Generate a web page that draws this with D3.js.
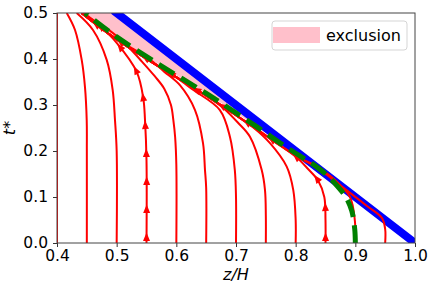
<!DOCTYPE html>
<html>
<head>
<meta charset="utf-8">
<script src="https://cdn.jsdelivr.net/npm/d3@7"></script>
<style>
  body { margin: 0; background: #fff; }
  text { font-family: "DejaVu Sans", sans-serif; }
</style>
</head>
<body>
<div class="chart"></div>
<script>
// Axis ticks
const xTicks = [0.4, 0.5, 0.6, 0.7, 0.8, 0.9, 1.0];
const yTicks = [0.0, 0.1, 0.2, 0.3, 0.4, 0.5];

// Blue wall line, [z/H, t*]
const blueLine = [[1.0, 0.0], [0.5, 0.5]];

// Green dashed boundary of the exclusion zone
const greenBoundary = [[0.9, 0.0], [0.899, 0.03], [0.894, 0.07], [0.884, 0.1], [0.869, 0.125],
  [0.85, 0.15], [0.826, 0.174], [0.815, 0.183], [0.78, 0.212], [0.74, 0.248], [0.701, 0.282],
  [0.66, 0.317], [0.62, 0.349], [0.5676, 0.391], [0.5, 0.448], [0.447, 0.5]];

// where the red trajectories bunch up along the boundary
const mergedBand = [[0.809, 0.183], [0.774, 0.212], [0.734, 0.248], [0.695, 0.282], [0.654, 0.317],
  [0.614, 0.349], [0.5616, 0.391], [0.494, 0.448], [0.441, 0.5]];

// Red trajectories, one per starting position
const curve040 = [[0.4, 0.0], [0.4, 0.5]];
const curve045 = [[0.45, 0.0], [0.45, 0.2], [0.4498, 0.267], [0.4469, 0.339], [0.4414, 0.398], [0.4302, 0.463], [0.4163, 0.5]];
const curve050 = [[0.5, 0.0], [0.5, 0.2], [0.4972, 0.267], [0.4933, 0.333], [0.4833, 0.398], [0.4603, 0.463], [0.433, 0.5]];
const curve055 = [[0.55, 0.0], [0.55, 0.18], [0.5475, 0.267], [0.5446, 0.315], [0.5336, 0.372], [0.5, 0.435], [0.472, 0.472], [0.445, 0.5]];
const curve060 = [[0.6, 0.0], [0.6, 0.17], [0.598, 0.23], [0.595, 0.267], [0.591, 0.3], [0.58, 0.335], [0.5642, 0.362], [0.542, 0.395], [0.5168, 0.43], [0.49, 0.46]];
const curve065 = [[0.65, 0.0], [0.65, 0.12], [0.648, 0.159], [0.6447, 0.217], [0.6313, 0.289], [0.606, 0.343], [0.58, 0.372], [0.555, 0.4]];
const curve070 = [[0.7, 0.0], [0.7, 0.1], [0.698, 0.159], [0.69, 0.23], [0.673, 0.289], [0.628, 0.333], [0.6, 0.36]];
const curve075 = [[0.75, 0.0], [0.75, 0.06], [0.7486, 0.115], [0.743, 0.159], [0.7234, 0.231], [0.703, 0.262], [0.68, 0.292]];
const curve080 = [[0.8, 0.0], [0.8, 0.05], [0.796, 0.115], [0.785, 0.166], [0.757, 0.217], [0.73, 0.25]];
const curve085 = [[0.85, 0.0], [0.85, 0.05], [0.848, 0.1], [0.838, 0.135], [0.82, 0.162], [0.8, 0.188]];
const curve090 = [[0.9, 0.0], [0.8994, 0.046], [0.891, 0.1], [0.8626, 0.141], [0.835, 0.165]];
const curve095 = [[0.95, 0.0], [0.95, 0.03], [0.9447, 0.054], [0.92, 0.08], [0.863, 0.137], [0.83, 0.17]];

const freeCurves = [curve040, curve045, curve050, curve055];
const bandCurves = [curve060, curve065, curve070, curve075, curve080, curve085, curve090, curve095];

const legendLabels = ["exclusion"];

// Set the dimensions and margins
const Margin = {top: 13, right: 21, bottom: 48, left: 57},
    Width = 436 - Margin.left - Margin.right,
    Height = 291 - Margin.top - Margin.bottom;

const svg = d3.select(".chart").append("svg")
    .attr("width", 436).attr("height", 291);

const g = svg.append("g")
    .attr("transform", "translate(" + Margin.left + "," + Margin.top + ")");

const x = d3.scaleLinear().domain([0.4, 1.0]).range([0, Width]);
const y = d3.scaleLinear().domain([0, 0.5]).range([Height, 0]);

g.append("clipPath").attr("id", "plotclip")
  .append("rect").attr("width", Width).attr("height", Height);

const plot = g.append("g").attr("clip-path", "url(#plotclip)");

const line = d3.line().x(d => x(d[0])).y(d => y(d[1])).curve(d3.curveCatmullRom.alpha(0.5));

// pink fill between the green boundary and the blue line
const blueZ = d3.scaleLinear().domain(blueLine.map(d => d[1])).range(blueLine.map(d => d[0]));
const pinkPts = greenBoundary.filter(d => d[1] >= 0.174);
plot.append("path")
  .attr("d", d3.area().y(d => y(d[1])).x0(d => x(d[0])).x1(d => x(blueZ(d[1]))).curve(d3.curveMonotoneY)(pinkPts))
  .attr("fill", "pink");

// blue line
plot.append("path")
  .attr("d", d3.line().x(d => x(d[0])).y(d => y(d[1]))(blueLine))
  .attr("fill", "none").attr("stroke", "blue").attr("stroke-width", 8)
  .attr("stroke-linecap", "square");

// red trajectories
function drawRed(pts) {
  return plot.append("path")
    .attr("d", line(pts))
    .attr("fill", "none").attr("stroke", "red").attr("stroke-width", 2);
}
const redPaths = {};
freeCurves.forEach(c => { redPaths[c[0][0]] = drawRed(c); });
bandCurves.forEach(c => {
  const lastT = c[c.length - 1][1];
  redPaths[c[0][0]] = drawRed(c.concat(mergedBand.filter(p => p[1] > lastT + 0.005)));
});

// arrow heads along two trajectories
function addArrows(pathSel, start, step) {
  const node = pathSel.node(), total = node.getTotalLength();
  for (let L = start; L < total - 6; L += step) {
    const p = node.getPointAtLength(L), q = node.getPointAtLength(L + 1);
    const a = Math.atan2(q.y - p.y, q.x - p.x) * 180 / Math.PI;
    plot.append("path")
      .attr("d", "M4.5,0L-4,-3.5L-4,3.5Z")
      .attr("transform", "translate(" + p.x + "," + p.y + ") rotate(" + a + ")")
      .attr("fill", "red");
  }
}
addArrows(redPaths[0.55], 6, 28);
addArrows(redPaths[0.85], 6, 30);

// green dashed boundary
plot.append("path")
  .attr("d", line(greenBoundary))
  .attr("fill", "none").attr("stroke", "green").attr("stroke-width", 5)
  .attr("stroke-dasharray", "18,8");

// Axes
const xAxis = g.append("g")
  .attr("transform", "translate(0," + Height + ")")
  .call(d3.axisBottom(x).tickValues(xTicks).tickFormat(d3.format(".1f")).tickSize(4).tickPadding(3).tickSizeOuter(0));
const yAxis = g.append("g")
  .call(d3.axisLeft(y).tickValues(yTicks).tickFormat(d3.format(".1f")).tickSize(4).tickPadding(5).tickSizeOuter(0));
[xAxis, yAxis].forEach(a => {
  a.select(".domain").remove();
  a.selectAll("line").attr("stroke", "#333");
  a.selectAll("text").attr("fill", "#000").style("font-size", "15.5px")
    .style("font-family", "DejaVu Sans");
});

// spines
g.append("rect").attr("width", Width).attr("height", Height)
  .attr("fill", "none").attr("stroke", "#444").attr("stroke-width", 1);

// Axis labels
g.append("text")
  .attr("x", Width / 2).attr("y", Height + 37)
  .attr("text-anchor", "middle")
  .style("font-size", "16px").style("font-style", "italic")
  .text("z/H");
g.append("text")
  .attr("transform", "translate(" + (-42) + "," + (Height / 2) + ") rotate(-90)")
  .attr("text-anchor", "middle")
  .style("font-size", "16px").style("font-style", "italic")
  .text("t*");

// Legend
const legend = g.append("g").attr("transform", "translate(" + (Width - 143) + ",8)");
legend.append("rect")
  .attr("width", 135).attr("height", 29).attr("rx", 3)
  .attr("fill", "#fff").attr("fill-opacity", 0.8)
  .attr("stroke", "#d5d5d5").attr("stroke-width", 1);
legend.append("rect")
  .attr("x", 1).attr("y", 6).attr("width", 47).attr("height", 16)
  .attr("fill", "pink");
legend.append("text")
  .attr("x", 54).attr("y", 20)
  .style("font-size", "16px")
  .text(legendLabels[0]);
</script>
</body>
</html>
